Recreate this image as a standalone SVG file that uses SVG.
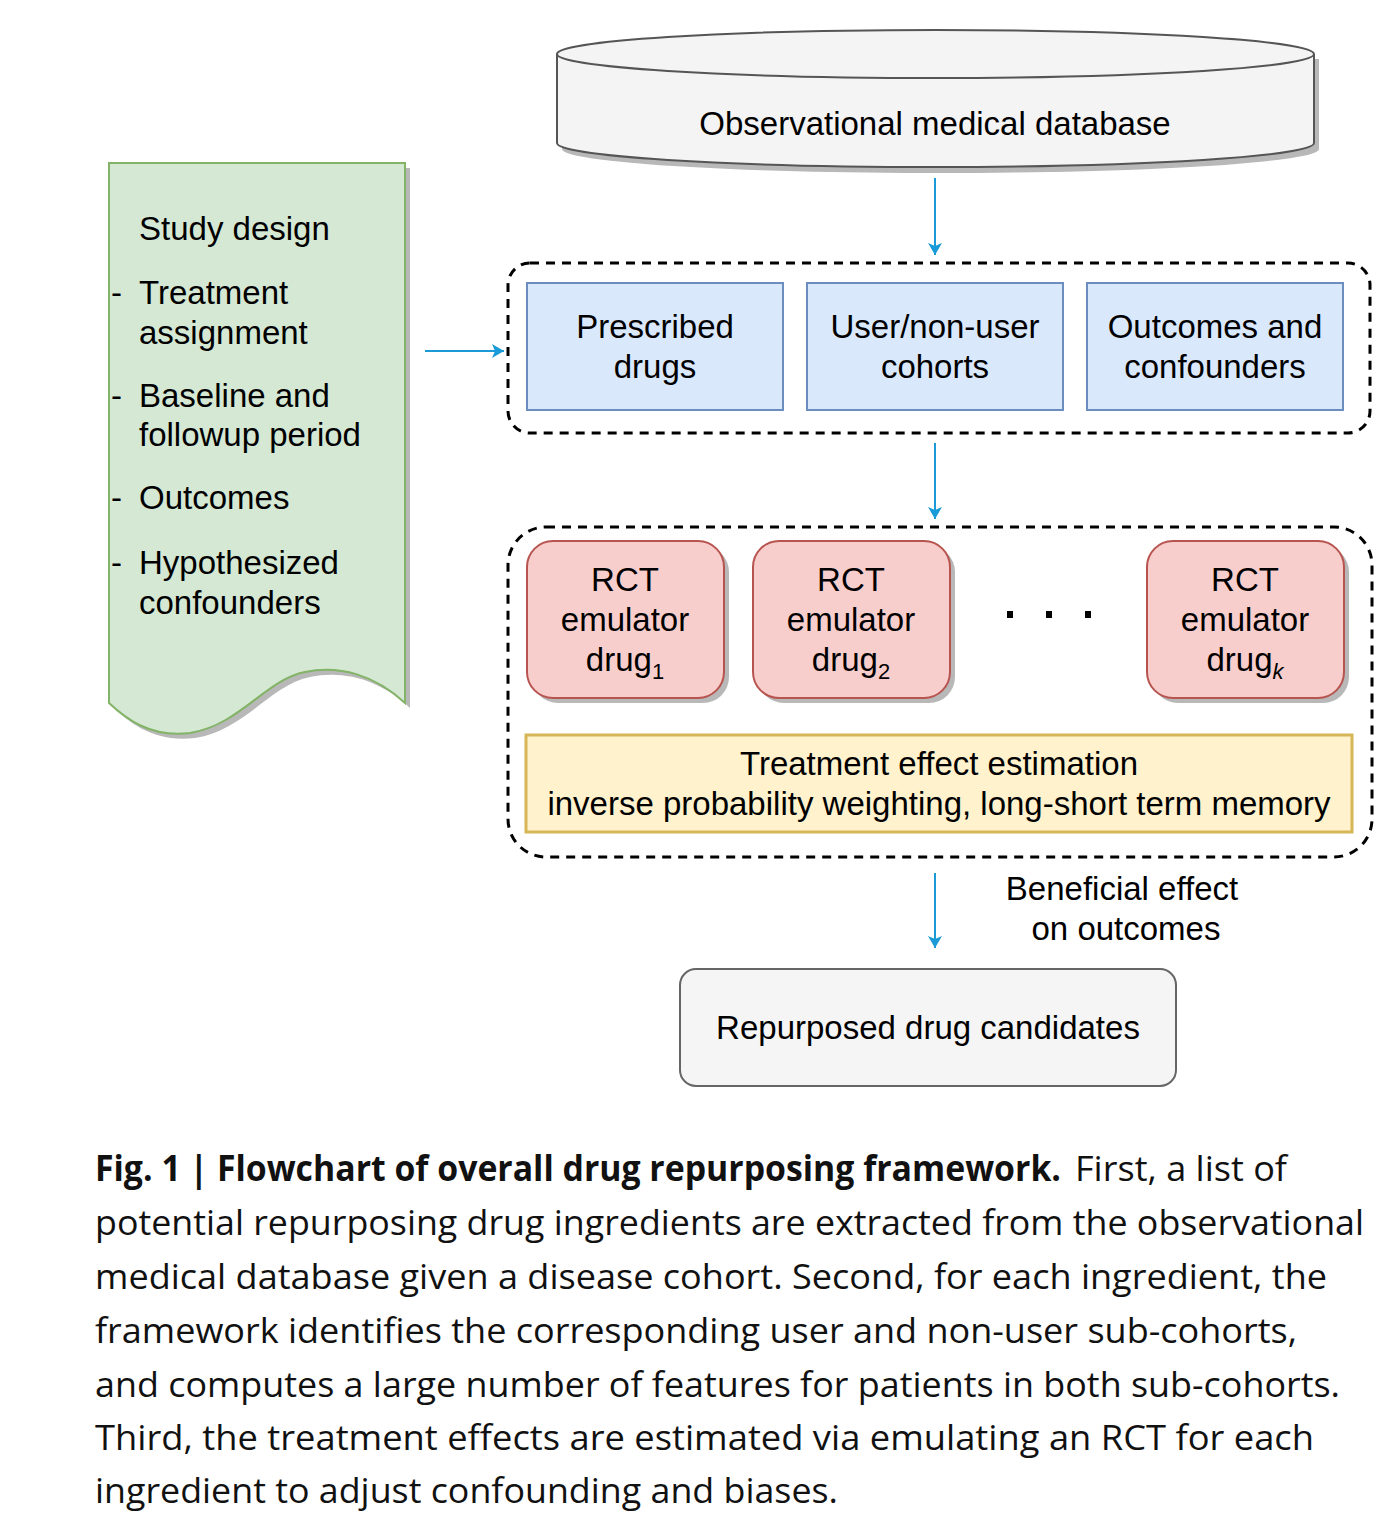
<svg xmlns="http://www.w3.org/2000/svg" width="1398" height="1536" viewBox="0 0 1398 1536">
<style>
text{font-family:"Liberation Sans",Arial,sans-serif;font-size:33px;fill:#000}
.c{text-anchor:middle}
.cap{font-family:"Open Sans","Noto Sans",sans-serif;font-size:35px;fill:#111}
.capb{font-family:"Open Sans","Noto Sans",sans-serif;font-size:35px;font-weight:bold;fill:#111}
.shadow{fill:#b8b8b8;stroke:none}
.blue{fill:#dae8fc;stroke:#6c8ebf;stroke-width:2}
.red{fill:#f8cecc;stroke:#b85450;stroke-width:2}
.dash{fill:none;stroke:#000;stroke-width:3;stroke-dasharray:9 7}
.conn{stroke:#1a9bd7;stroke-width:2;fill:none}
</style>
<defs>
<marker id="ah" markerWidth="14" markerHeight="14" refX="12" refY="7" orient="auto" markerUnits="userSpaceOnUse">
<path d="M0,0 L12,7 L0,14 L3,7 Z" fill="#1a9bd7"/>
</marker>
</defs>
<rect width="1398" height="1536" fill="#fff"/>

<g id="database">
<path class="shadow" d="M562,59 L562,149 A378.5,24 0 0 0 1319,149 L1319,59 Z"/>
<path d="M557,54 L557,143 A378.5,24 0 0 0 1314,143 L1314,54 A378.5,24 0 0 0 557,54 Z" fill="#f4f4f4" stroke="#555" stroke-width="2"/>
<path d="M557,54 A378.5,24 0 0 0 1314,54" fill="none" stroke="#555" stroke-width="2"/>
<text class="c" x="935" y="135">Observational medical database</text>
</g>

<g id="study-design">
<path class="shadow" d="M114,168 L410,168 L410,708 C380,680 345,670 310,677 C270,685 245,730 195,738 C155,743 130,723 114,708 Z"/>
<path d="M109,163 L405,163 L405,703 C375,675 340,665 305,672 C265,680 240,725 190,733 C150,738 125,718 109,703 Z" fill="#d5e8d4" stroke="#82b366" stroke-width="2"/>
<text x="139" y="240">Study design</text>
<text x="111" y="304">-</text>
<text x="139" y="304">Treatment</text>
<text x="139" y="344">assignment</text>
<text x="111" y="407">-</text>
<text x="139" y="407">Baseline and</text>
<text x="139" y="446">followup period</text>
<text x="111" y="509">-</text>
<text x="139" y="509">Outcomes</text>
<text x="111" y="574">-</text>
<text x="139" y="574">Hypothesized</text>
<text x="139" y="614">confounders</text>
</g>

<g id="group-extraction">
<rect class="dash" x="508" y="263" width="862" height="170" rx="22"/>
</g>
<g id="prescribed-drugs">
<rect class="blue" x="527" y="283" width="256" height="127"/>
<text class="c" x="655" y="338">Prescribed</text>
<text class="c" x="655" y="378">drugs</text>
</g>
<g id="cohorts">
<rect class="blue" x="807" y="283" width="256" height="127"/>
<text class="c" x="935" y="338">User/non-user</text>
<text class="c" x="935" y="378">cohorts</text>
</g>
<g id="outcomes">
<rect class="blue" x="1087" y="283" width="256" height="127"/>
<text class="c" x="1215" y="338">Outcomes and</text>
<text class="c" x="1215" y="378">confounders</text>
</g>

<g id="group-emulation">
<rect class="dash" x="508" y="527" width="864" height="330" rx="38"/>
</g>
<g id="rct1">
<rect class="shadow" x="532" y="546" width="197" height="157" rx="26"/>
<rect class="red" x="527" y="541" width="197" height="157" rx="26"/>
<text class="c" x="625" y="591">RCT</text>
<text class="c" x="625" y="631">emulator</text>
<text class="c" x="625" y="671">drug<tspan font-size="22" dy="8">1</tspan></text>
</g>
<g id="rct2">
<rect class="shadow" x="758" y="546" width="197" height="157" rx="26"/>
<rect class="red" x="753" y="541" width="197" height="157" rx="26"/>
<text class="c" x="851" y="591">RCT</text>
<text class="c" x="851" y="631">emulator</text>
<text class="c" x="851" y="671">drug<tspan font-size="22" dy="8">2</tspan></text>
</g>
<g id="ellipsis">
<rect x="1007" y="611" width="6" height="7" fill="#000"/>
<rect x="1046" y="611" width="6" height="7" fill="#000"/>
<rect x="1085" y="611" width="6" height="7" fill="#000"/>
</g>
<g id="rctk">
<rect class="shadow" x="1152" y="546" width="197" height="157" rx="26"/>
<rect class="red" x="1147" y="541" width="197" height="157" rx="26"/>
<text class="c" x="1245" y="591">RCT</text>
<text class="c" x="1245" y="631">emulator</text>
<text class="c" x="1245" y="671">drug<tspan font-size="22" dy="8" font-style="italic">k</tspan></text>
</g>
<g id="effect-estimation">
<rect x="526" y="735" width="826" height="97" fill="#fff2cc" stroke="#d6b656" stroke-width="3"/>
<text class="c" x="939" y="775">Treatment effect estimation</text>
<text class="c" x="939" y="815">inverse probability weighting, long-short term memory</text>
</g>

<g id="repurposed">
<rect x="680" y="969" width="496" height="117" rx="16" fill="#f5f5f5" stroke="#666" stroke-width="2"/>
<text class="c" x="928" y="1039">Repurposed drug candidates</text>
</g>

<g id="connectors">
<line class="conn" x1="935" y1="178" x2="935" y2="255" marker-end="url(#ah)"/>
<line class="conn" x1="425" y1="351" x2="504" y2="351" marker-end="url(#ah)"/>
<line class="conn" x1="935" y1="443" x2="935" y2="519" marker-end="url(#ah)"/>
<line class="conn" x1="935" y1="873" x2="935" y2="948" marker-end="url(#ah)"/>
<text class="c" x="1122" y="900">Beneficial effect</text>
<text class="c" x="1126" y="940">on outcomes</text>
</g>

<g id="caption">
<text class="capb" x="95" y="1181" textLength="966" lengthAdjust="spacingAndGlyphs">Fig. 1 | Flowchart of overall drug repurposing framework.</text>
<text class="cap" x="1075" y="1181" textLength="212" lengthAdjust="spacingAndGlyphs">First, a list of</text>
<text class="cap" x="95" y="1235" textLength="1269" lengthAdjust="spacingAndGlyphs">potential repurposing drug ingredients are extracted from the observational</text>
<text class="cap" x="95" y="1289" textLength="1232" lengthAdjust="spacingAndGlyphs">medical database given a disease cohort. Second, for each ingredient, the</text>
<text class="cap" x="95" y="1343" textLength="1202" lengthAdjust="spacingAndGlyphs">framework identifies the corresponding user and non-user sub-cohorts,</text>
<text class="cap" x="95" y="1397" textLength="1245" lengthAdjust="spacingAndGlyphs">and computes a large number of features for patients in both sub-cohorts.</text>
<text class="cap" x="95" y="1450" textLength="1219" lengthAdjust="spacingAndGlyphs">Third, the treatment effects are estimated via emulating an RCT for each</text>
<text class="cap" x="95" y="1503" textLength="743" lengthAdjust="spacingAndGlyphs">ingredient to adjust confounding and biases.</text>
</g>
</svg>
